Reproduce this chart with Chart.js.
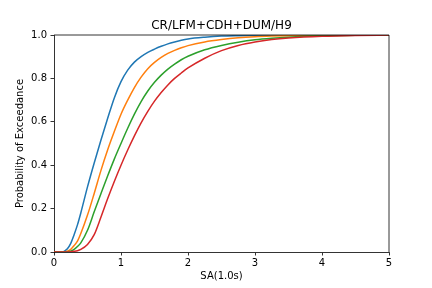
<!DOCTYPE html>
<html>
<head>
<meta charset="utf-8">
<script src="https://cdn.jsdelivr.net/npm/chart.js@4.4.1/dist/chart.umd.min.js"></script>
<style>
  html, body { margin: 0; padding: 0; background: #fff; }
  canvas { display: block; }
</style>
</head>
<body>
<canvas id="cdf-chart" width="432" height="288"></canvas>
<script>
// SA(1.0s) sample points shared by all curves
const saValues = [0, 0.1, 0.15, 0.2, 0.25, 0.3, 0.35, 0.4, 0.5, 0.6, 0.7, 0.8, 0.9, 1.0,
  1.1, 1.2, 1.3, 1.4, 1.5, 1.6, 1.7, 1.8, 1.9, 2.0, 2.25, 2.5, 2.75, 3.0, 3.25, 3.5, 4.0, 4.5, 5.0];

// probability of exceedance
const blueCurve = [0, 0, 0.003, 0.015, 0.04, 0.08, 0.125, 0.18, 0.30, 0.41, 0.515, 0.615, 0.71, 0.785,
  0.838, 0.875, 0.90, 0.92, 0.935, 0.948, 0.959, 0.968, 0.976, 0.982, 0.99, 0.995, 0.997, 0.998, 0.999, 0.999, 1, 1, 1];
const orangeCurve = [0, 0, 0, 0.004, 0.012, 0.03, 0.05, 0.085, 0.17, 0.27, 0.375, 0.47, 0.555, 0.635,
  0.70, 0.758, 0.806, 0.845, 0.874, 0.897, 0.915, 0.929, 0.941, 0.951, 0.968, 0.979, 0.987, 0.992, 0.995, 0.997, 0.999, 1, 1];
const greenCurve = [0, 0, 0, 0.001, 0.004, 0.012, 0.025, 0.042, 0.10, 0.185, 0.268, 0.35, 0.428, 0.50,
  0.57, 0.635, 0.693, 0.742, 0.782, 0.815, 0.843, 0.866, 0.886, 0.902, 0.932, 0.952, 0.967, 0.978, 0.985, 0.99, 0.996, 0.999, 1];
const redCurve = [0, 0, 0, 0, 0.001, 0.003, 0.006, 0.012, 0.035, 0.08, 0.16, 0.245, 0.325, 0.40,
  0.47, 0.535, 0.595, 0.648, 0.695, 0.735, 0.77, 0.80, 0.825, 0.848, 0.893, 0.928, 0.952, 0.968, 0.979, 0.986, 0.994, 0.998, 1];

const xTicks = [0, 1, 2, 3, 4, 5];
const yTicks = [0, 0.2, 0.4, 0.6, 0.8, 1.0];
const chartTitle = "CR/LFM+CDH+DUM/H9";

const curves = [
  { values: blueCurve, color: "#1f77b4" },
  { values: orangeCurve, color: "#ff7f0e" },
  { values: greenCurve, color: "#2ca02c" },
  { values: redCurve, color: "#d62728" },
];

Chart.defaults.font.family = "'DejaVu Sans', sans-serif";
Chart.defaults.color = "#000";

// top/right spines and a title centred over the plot area, like matplotlib
const frameBox = {
  id: "frameBox",
  afterDraw(chart) {
    const { ctx, chartArea } = chart;
    ctx.save();
    ctx.strokeStyle = "#000";
    ctx.lineWidth = 0.8;
    ctx.beginPath();
    ctx.moveTo(chartArea.left, chartArea.top);
    ctx.lineTo(chartArea.right, chartArea.top);
    ctx.lineTo(chartArea.right, chartArea.bottom);
    ctx.stroke();

    ctx.fillStyle = "#000";
    ctx.font = "12px 'DejaVu Sans', sans-serif";
    ctx.textAlign = "center";
    ctx.textBaseline = "alphabetic";
    ctx.fillText(chartTitle, (chartArea.left + chartArea.right) / 2, chartArea.top - 6);
    ctx.restore();
  },
};

const ctx = document.getElementById("cdf-chart").getContext("2d");

new Chart(ctx, {
  type: "line",
  data: {
    datasets: curves.map((c, i) => ({
      data: saValues.map((x, j) => ({ x: x, y: c.values[j] })),
      borderColor: c.color,
      borderWidth: 1.5,
      pointRadius: 0,
      fill: false,
      cubicInterpolationMode: "monotone",
      order: curves.length - i,
    })),
  },
  options: {
    responsive: false,
    animation: false,
    layout: { padding: { left: 0, right: 43, top: 35, bottom: 0 } },
    plugins: {
      legend: { display: false },
      tooltip: { enabled: false },
      title: { display: false },
    },
    scales: {
      x: {
        type: "linear",
        min: 0,
        max: 5,
        afterBuildTicks: (scale) => { scale.ticks = xTicks.map((v) => ({ value: v })); },
        afterFit: (scale) => { scale.height = 36; },
        ticks: { font: { size: 10 }, color: "#000", padding: 2, maxRotation: 0 },
        grid: { drawOnChartArea: false, tickLength: 3.5, color: "#000", lineWidth: 0.8 },
        border: { color: "#000", width: 0.8 },
        title: { display: true, text: "SA(1.0s)", font: { size: 10 }, color: "#000", padding: { top: 0, bottom: 5.3 } },
      },
      y: {
        min: 0,
        max: 1,
        afterBuildTicks: (scale) => { scale.ticks = yTicks.map((v) => ({ value: v })); },
        afterFit: (scale) => { scale.width = 54; },
        ticks: { font: { size: 10 }, color: "#000", padding: 3.5, callback: (v) => v.toFixed(1) },
        grid: { drawOnChartArea: false, tickLength: 3.5, color: "#000", lineWidth: 0.8 },
        border: { color: "#000", width: 0.8 },
        title: { display: true, text: "Probability of Exceedance", font: { size: 10 }, color: "#000", padding: { top: 14.7, bottom: 0 } },
      },
    },
  },
  plugins: [frameBox],
});
</script>
</body>
</html>
